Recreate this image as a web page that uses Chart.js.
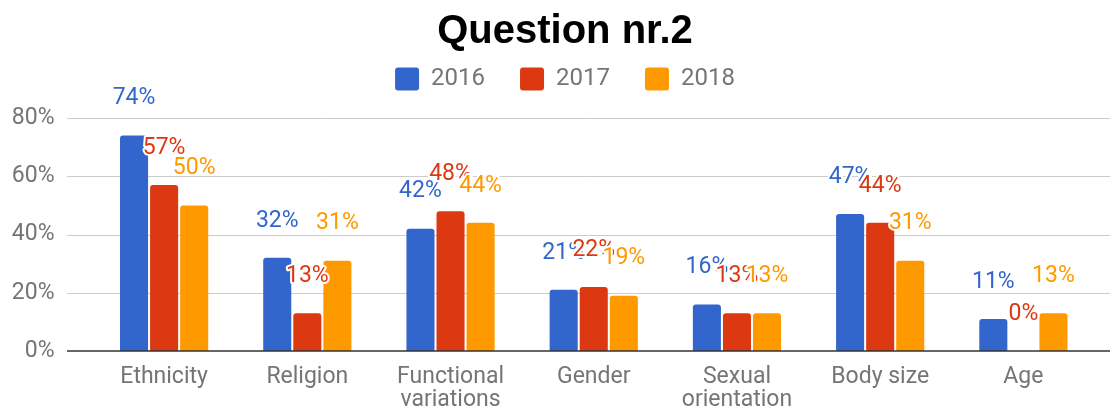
<!DOCTYPE html>
<html>
<head>
<meta charset="utf-8">
<script src="https://cdn.jsdelivr.net/npm/chart.js@4"></script>
<style>
html,body{margin:0;padding:0;background:#fff;}
#wrap{width:1110px;height:412px;}
</style>
</head>
<body>
<div id="wrap"><canvas id="c" width="1110" height="412"></canvas></div>
<script>
// ---- data ----
const categories = ['Ethnicity', 'Religion', ['Functional', 'variations'], 'Gender', ['Sexual', 'orientation'], 'Body size', 'Age'];
const values2016 = [74, 32, 42, 21, 16, 47, 11];
const values2017 = [57, 13, 48, 22, 13, 44, 0];
const values2018 = [50, 31, 44, 19, 13, 31, 13];
const seriesNames = ['2016', '2017', '2018'];
const yTickValues = [0, 20, 40, 60, 80];
const titleText = 'Question nr.2';

// ---- styles ----
const seriesColors = ['#3366cc', '#dc3912', '#ff9900'];
const textGray = '#757575';
const baseFont = 'Roboto, "Noto Sans", sans-serif';

const guidePlugin = {
  id: 'guides',
  beforeDatasetsDraw(chart) {
    const ctx = chart.ctx, y = chart.scales.y;
    ctx.save();
    ctx.strokeStyle = '#cccccc';
    ctx.lineWidth = 1;
    y.ticks.forEach(t => {
      if (t.value === 0) return;
      const py = Math.round(y.getPixelForValue(t.value)) + 0.5;
      ctx.beginPath();
      ctx.moveTo(67, py);
      ctx.lineTo(chart.width, py);
      ctx.stroke();
    });
    ctx.restore();
  },
  afterDatasetsDraw(chart) {
    const ctx = chart.ctx, y = chart.scales.y;
    ctx.save();
    const py0 = y.getPixelForValue(0);
    ctx.strokeStyle = '#333333';
    ctx.lineWidth = 1.5;
    ctx.beginPath();
    ctx.moveTo(67, py0);
    ctx.lineTo(chart.width, py0);
    ctx.stroke();
    ctx.font = '23px ' + baseFont;
    ctx.textAlign = 'center';
    ctx.textBaseline = 'middle';
    ctx.lineJoin = 'round';
    chart.data.datasets.forEach((ds, i) => {
      const meta = chart.getDatasetMeta(i);
      meta.data.forEach((bar, j) => {
        const txt = ds.data[j] + '%';
        const x = bar.x, ty = bar.y - 37;
        ctx.strokeStyle = '#ffffff';
        ctx.lineWidth = 4;
        ctx.strokeText(txt, x, ty);
        ctx.fillStyle = ds.backgroundColor;
        ctx.fillText(txt, x, ty);
      });
    });
    ctx.restore();
  }
};

const datasets = [values2016, values2017, values2018].map((vals, i) => ({
  label: seriesNames[i],
  data: vals,
  yAxisID: 'y',
  backgroundColor: seriesColors[i],
  borderWidth: 0,
  borderRadius: 3,
  categoryPercentage: 0.63,
  barPercentage: 0.933
}));

new Chart(document.getElementById('c'), {
  type: 'bar',
  data: { labels: categories, datasets },
  options: {
    responsive: false,
    animation: false,
    devicePixelRatio: 1,
    layout: { padding: { left: 10, right: -10, top: 0, bottom: -15 } },
    plugins: {
      title: {
        display: true,
        text: titleText,
        color: '#000000',
        font: { family: '"Liberation Sans", Arial, sans-serif', size: 40, weight: 'bold', lineHeight: 1.2 },
        padding: { top: 8, bottom: -24 }
      },
      subtitle: {
        display: true,
        text: '',
        weight: 500,
        font: { size: 1, lineHeight: 1 },
        padding: { top: 16, bottom: 0 }
      },
      legend: {
        display: true,
        position: 'top',
        labels: {
          color: textGray,
          font: { family: baseFont, size: 24 },
          boxWidth: 24,
          boxHeight: 23,
          padding: 35,
          useBorderRadius: true,
          borderRadius: 3
        }
      },
      tooltip: { enabled: false }
    },
    scales: {
      x: {
        grid: { display: false, drawTicks: false },
        border: { display: false },
        ticks: {
          color: textGray,
          font: { family: baseFont, size: 23, lineHeight: 1.0 },
          padding: 15,
          maxRotation: 0,
          autoSkip: false
        }
      },
      y: {
        min: yTickValues[0],
        max: yTickValues[yTickValues.length - 1],
        afterBuildTicks(scale) { scale.ticks = yTickValues.map(v => ({ value: v })); },
        afterFit(scale) { scale.width = 82.5; },
        grid: { display: false, drawTicks: false },
        border: { display: false },
        ticks: {
          color: textGray,
          font: { family: baseFont, size: 23 },
          padding: 38,
          callback: v => v + '%'
        }
      },
      yRight: {
        type: 'linear',
        position: 'right',
        display: true,
        afterFit(scale) { scale.width = 25; },
        grid: { display: false, drawTicks: false },
        border: { display: false },
        ticks: { display: false }
      }
    }
  },
  plugins: [guidePlugin]
});
</script>
</body>
</html>
